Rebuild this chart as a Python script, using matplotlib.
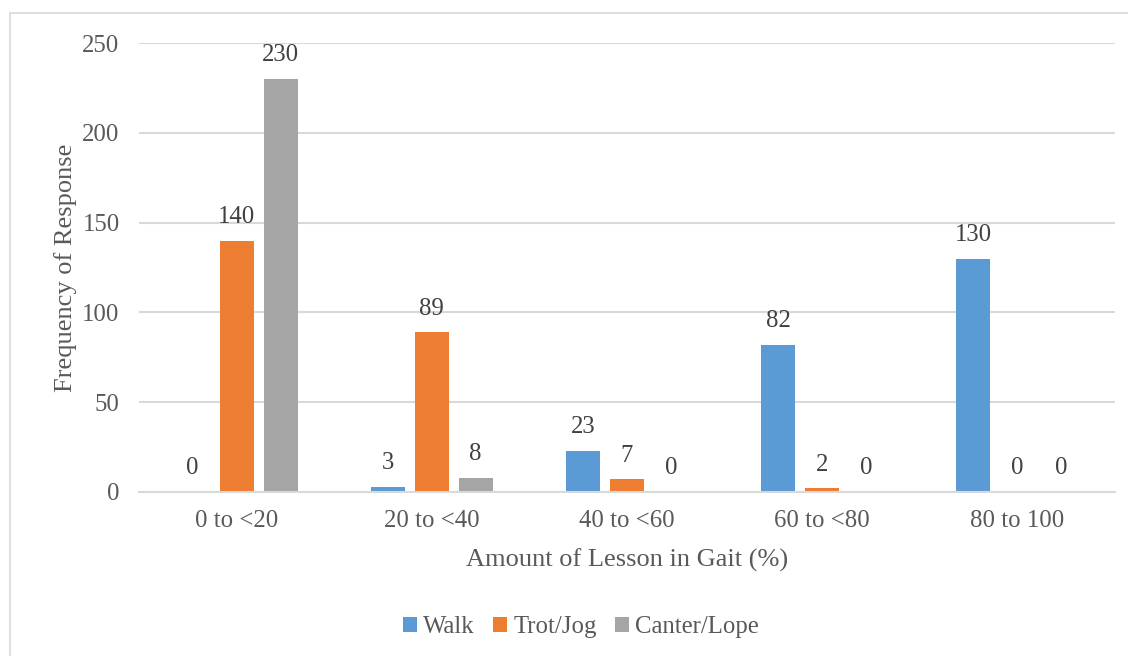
import matplotlib
matplotlib.use("Agg")
import matplotlib.pyplot as plt
import numpy as np
from matplotlib.patches import Rectangle

categories = ["0 to <20", "20 to <40", "40 to <60", "60 to <80", "80 to 100"]
series_names = ["Walk", "Trot/Jog", "Canter/Lope"]
walk = [0, 3, 23, 82, 130]
trot = [140, 89, 7, 2, 0]
canter = [230, 8, 0, 0, 0]
colors = ["#5B9BD5", "#ED7D31", "#A5A5A5"]
yticks = [0, 50, 100, 150, 200, 250]

plt.rcParams['font.family'] = ['Liberation Serif', 'DejaVu Serif']
text_color = "#595959"
fs = 17.8

fig = plt.figure(figsize=(11.28, 6.56), dpi=100)
ax = fig.add_axes([139/1128, 1 - 492/656, (1115-139)/1128, (492-43)/656])

# outer border
fig.patches.append(Rectangle((10/1128, -0.01), 1.02, 1 - 13/656 + 0.01,
                             transform=fig.transFigure, fill=False,
                             edgecolor="#D9D9D9", linewidth=1.2))

x = np.arange(len(categories))
width = 0.174
offset = 0.225
for i, (vals, name, c) in enumerate(zip([walk, trot, canter], series_names, colors)):
    pos = x + (i - 1) * offset
    ax.bar(pos, vals, width=width, color=c, label=name, zorder=3)
    for p, v in zip(pos, vals):
        ax.text(p, v + 7, str(v), ha="center", va="bottom", fontsize=fs, color="#404040")

ax.set_xlim(-0.5, len(categories) - 0.5)
ax.set_ylim(0, 250)
ax.set_yticks(yticks)
ax.set_xticks(x)
ax.set_xticklabels(categories)
ax.tick_params(axis="both", length=0, labelsize=fs, colors=text_color)
ax.tick_params(axis="y", pad=14)
ax.tick_params(axis="x", pad=13)
ax.grid(axis="y", color="#D9D9D9", linewidth=1.5, zorder=0)
for s in ["top", "right", "left"]:
    ax.spines[s].set_visible(False)
ax.spines["bottom"].set_color("#D9D9D9")
ax.spines["bottom"].set_linewidth(1.5)
ax.spines["bottom"].set_zorder(4)

ax.set_xlabel("Amount of Lesson in Gait (%)", fontsize=19, color=text_color, labelpad=12)
ax.set_ylabel("Frequency of Response", fontsize=19, color=text_color, labelpad=4)

leg = fig.legend(loc="center", bbox_to_anchor=(581/1128, 1 - 627/656), ncol=3,
                 frameon=False, fontsize=fs, handlelength=0.55, handleheight=0.55,
                 handletextpad=0.25, columnspacing=0.75)
for t in leg.get_texts():
    t.set_color(text_color)

fig.savefig("out.png", dpi=100)
